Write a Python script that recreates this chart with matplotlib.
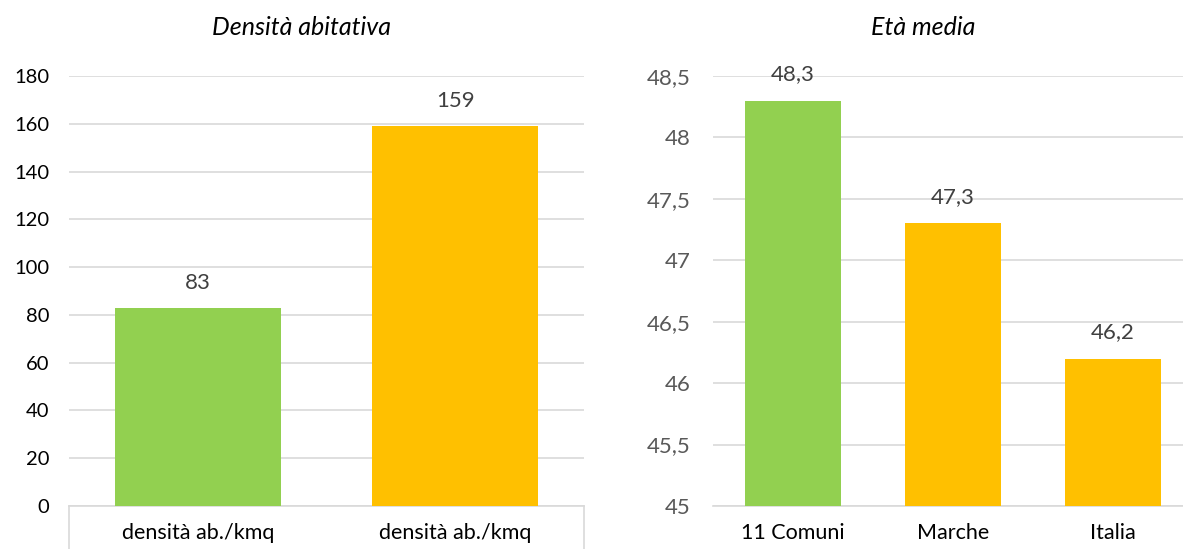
import matplotlib.pyplot as plt
from matplotlib.ticker import FuncFormatter, MultipleLocator

plt.rcParams['font.family'] = ['Lato', 'DejaVu Sans']

# dati
dens_labels = ['densità ab./kmq', 'densità ab./kmq']
dens_values = [83, 159]
dens_colors = ['#92D050', '#FFC000']

eta_labels = ['11 Comuni', 'Marche', 'Italia']
eta_values = [48.3, 47.3, 46.2]
eta_colors = ['#92D050', '#FFC000', '#FFC000']

GRID = '#D9D9D9'


def virgola(v, pos=None):
    return f'{v:g}'.replace('.', ',')


fig = plt.figure(figsize=(11.83, 5.49), dpi=100)

# --- Densità abitativa ---
ax1 = fig.add_axes([0.0583, 0.0783, 0.4354, 0.7833])
x1 = range(len(dens_values))
ax1.bar(x1, dens_values, width=0.645, color=dens_colors, zorder=3)
ax1.set_xlim(-0.5, 1.5)
ax1.set_ylim(0, 180)
ax1.yaxis.set_major_locator(MultipleLocator(20))
ax1.set_xticks(list(x1))
ax1.set_xticklabels(dens_labels, fontsize=15.5, color='#000000')
ax1.tick_params(axis='x', length=0, pad=12)
ax1.tick_params(axis='y', length=0, pad=14, labelsize=14.5, labelcolor='#000000')
ax1.grid(axis='y', color=GRID, lw=1.2, zorder=0)
for s in ['top', 'right', 'left']:
    ax1.spines[s].set_visible(False)
ax1.spines['bottom'].set_color(GRID)
ax1.spines['bottom'].set_linewidth(1.2)
# bordi verticali sotto l'asse
for xa in (0, 1):
    ax1.plot([xa, xa], [0, -0.11], transform=ax1.transAxes, color=GRID, lw=1.2, clip_on=False)
for xi, v in zip(x1, dens_values):
    ax1.annotate(f'{v}', (xi, v), xytext=(0, 18), textcoords='offset points',
                 ha='center', va='center', fontsize=16, color='#404040')
ax1.text(0.452, 1.112, 'Densità abitativa', transform=ax1.transAxes,
         ha='center', va='center', fontsize=18, style='italic')

# --- Età media ---
ax2 = fig.add_axes([0.6027, 0.0783, 0.4057, 0.7833])
x2 = range(len(eta_values))
ax2.bar(x2, eta_values, width=0.6, color=eta_colors, zorder=3)
ax2.set_xlim(-0.5, 2.5)
ax2.set_ylim(45, 48.5)
ax2.yaxis.set_major_locator(MultipleLocator(0.5))
ax2.yaxis.set_major_formatter(FuncFormatter(virgola))
ax2.set_xticks(list(x2))
ax2.set_xticklabels(eta_labels, fontsize=15.5, color='#000000')
ax2.tick_params(axis='x', length=0, pad=12)
ax2.tick_params(axis='y', length=0, pad=16, labelsize=16, labelcolor='#595959')
ax2.grid(axis='y', color=GRID, lw=1.2, zorder=0)
for s in ['top', 'right', 'left']:
    ax2.spines[s].set_visible(False)
ax2.spines['bottom'].set_color(GRID)
ax2.spines['bottom'].set_linewidth(1.2)
for xi, v in zip(x2, eta_values):
    ax2.annotate(virgola(v), (xi, v), xytext=(0, 19), textcoords='offset points',
                 ha='center', va='center', fontsize=16, color='#404040')
ax2.text(0.4375, 1.112, 'Età media', transform=ax2.transAxes,
         ha='center', va='center', fontsize=18, style='italic')

fig.savefig('out.png', dpi=100)
